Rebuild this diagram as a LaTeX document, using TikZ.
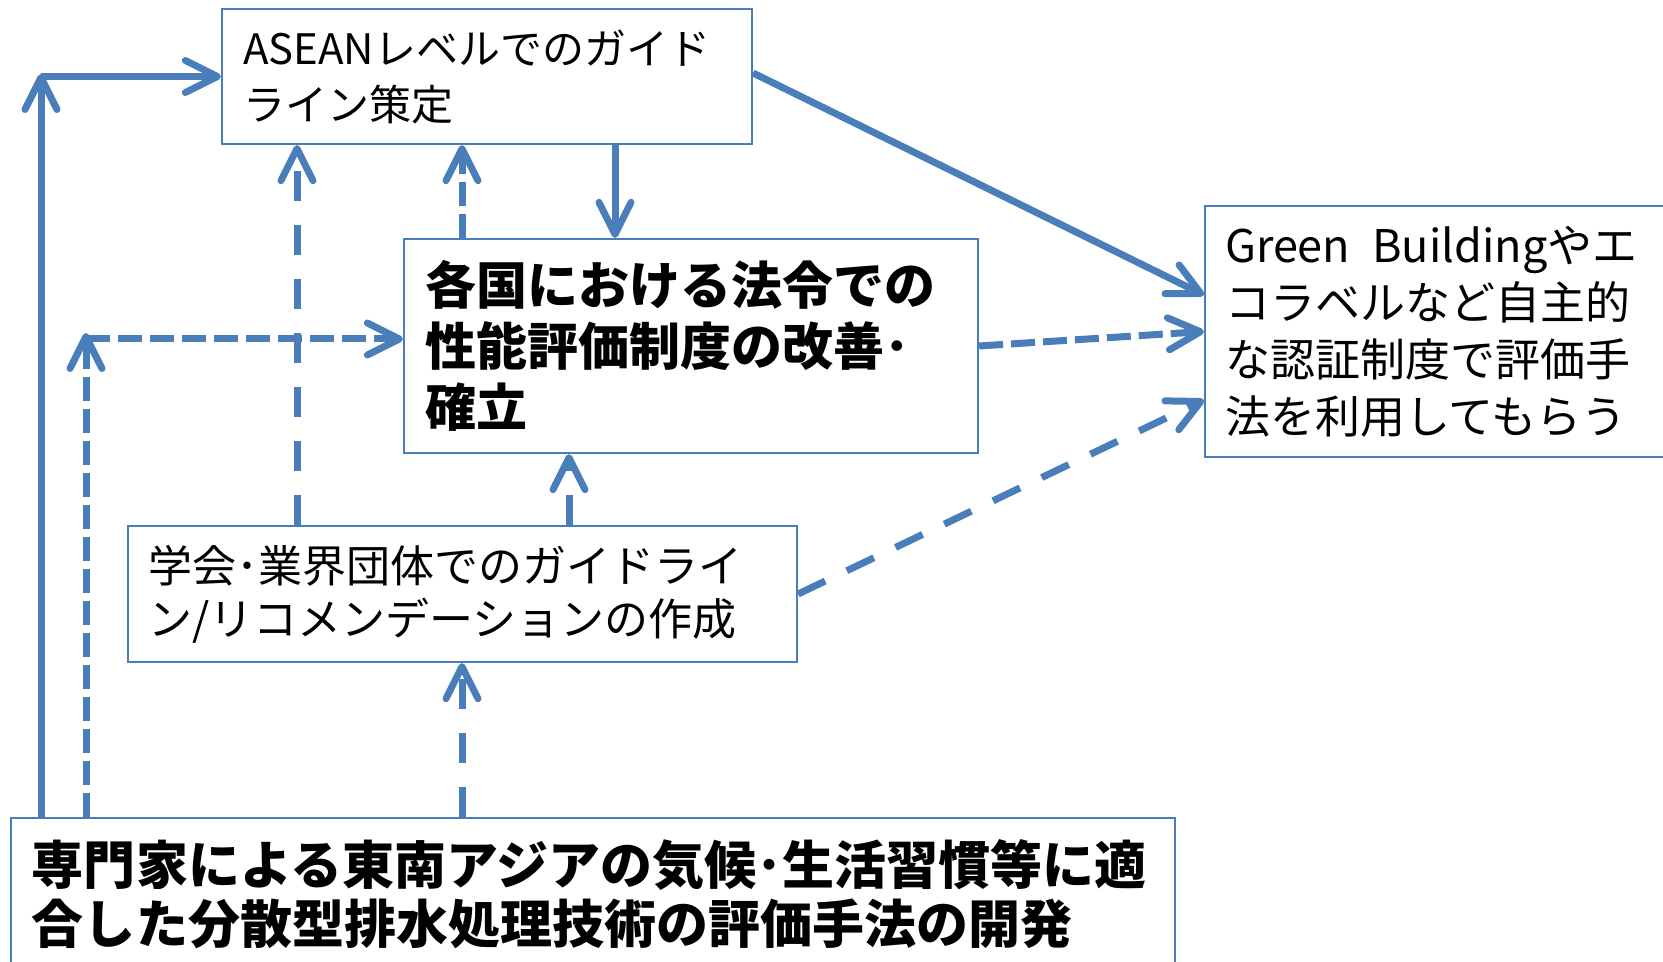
\documentclass[tikz,border=0pt]{standalone}
\usepackage{fontspec}
\setmainfont{Noto Sans CJK JP}
\usetikzlibrary{arrows.meta,calc}
\definecolor{lineblue}{RGB}{74,126,187}
\tikzset{
  box/.style={draw=lineblue, line width=1.1pt, align=left, inner ysep=0pt, anchor=center, text=black},
  conn/.style={draw=lineblue, line width=3.5pt, -{Straight Barb[length=16pt,width=16pt,round]}},
  longdash/.style={conn, dash pattern=on 15pt off 12pt},
  shortdash/.style={conn, dash pattern=on 12pt off 4pt},
}
\begin{document}
\begin{tikzpicture}[x=0.5pt,y=-0.5pt]
\useasboundingbox (0,0) rectangle (1663,962);
\clip (0,0) rectangle (1663,962);
\fill[white] (0,0) rectangle (1663,962);

% boxes
\node[box, inner xsep=10.5pt, text width=244pt, minimum width=265pt, minimum height=67.5pt,
      font=\fontsize{21}{28}\selectfont] (asean) at (487,76.5)
  {ASEANレベルでのガイド\\ライン策定};
\node[box, inner xsep=10.5pt, text width=266pt, minimum width=287pt, minimum height=107pt,
      font=\fontsize{25.5}{30.5}\selectfont\bfseries] (law) at (691,346)
  {各国における法令での\\性能評価制度の改善･\\確立};
\node[box, inner xsep=10pt, text width=230pt, minimum width=250pt, minimum height=125.5pt,
      font=\fontsize{22.5}{28.5}\selectfont] (right) at (1455,331.5)
  {Green\hspace{11pt}Buildingやエ\\コラベルなど自主的\\な認証制度で評価手\\法を利用してもらう};
\node[box, inner xsep=10pt, text width=314.5pt, minimum width=334.5pt, minimum height=68pt,
      font=\fontsize{22}{26.5}\selectfont] (gakkai) at (462.5,594)
  {学会･業界団体でのガイドライ\\ン/リコメンデーションの作成};
\node[box, inner xsep=10.5pt, text width=561pt, minimum width=582pt, minimum height=76pt,
      font=\fontsize{26}{29.5}\selectfont\bfseries] (expert) at (593,894)
  {専門家による東南アジアの気候･生活習慣等に適\\合した分散型排水処理技術の評価手法の開発};

% helper coordinates
\coordinate (cornerA) at (41,76.5);
\coordinate (cornerB) at (86,339);
\coordinate (xa) at (615,0);
\coordinate (xb) at (462,0);
\coordinate (xc) at (297,0);
\coordinate (xd) at (569,0);

% solid connectors
\draw[conn] (expert.north -| cornerA) -- ([yshift=1.25pt]cornerA);
\draw[conn] (cornerA) -- (asean.west);
\draw[conn] (asean.south -| xa) -- (law.north -| xa);
\draw[conn] ([yshift=1.75pt]asean.east) -- ([yshift=18.25pt]right.west);

% dashed connectors
\draw[shortdash] (expert.north -| cornerB) -- ([yshift=3pt]cornerB);
\draw[shortdash] (cornerB) -- (cornerB -| law.west);
\draw[shortdash] (law.north -| xb) -- (asean.south -| xb);
\draw[longdash] (gakkai.north -| xc) -- (asean.south -| xc);
\draw[longdash] (gakkai.north -| xd) -- (law.south -| xd);
\draw[longdash] (expert.north -| xb) -- (gakkai.south -| xb);
\draw[shortdash] (law.east) -- (right.west);
\draw[longdash] (gakkai.east) -- ([yshift=-34.25pt]right.west);
\end{tikzpicture}
\end{document}
